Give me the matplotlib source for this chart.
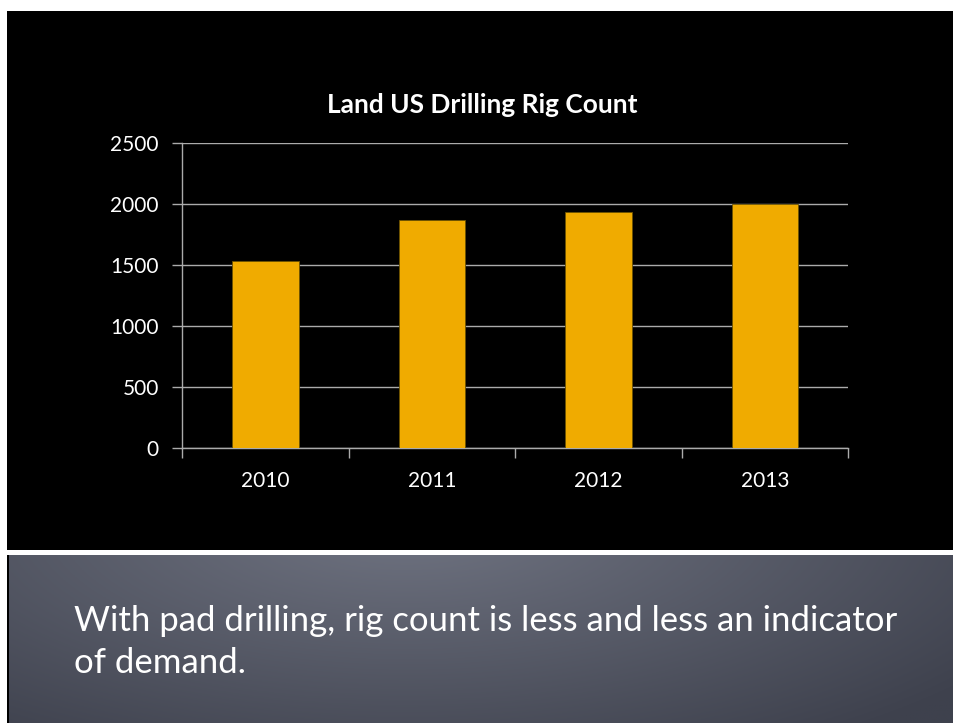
import matplotlib
matplotlib.use("Agg")
import matplotlib.pyplot as plt
import numpy as np
from matplotlib.patches import Rectangle

years = ["2010", "2011", "2012", "2013"]
rig_counts = [1533, 1871, 1939, 2002]
y_ticks = [0, 500, 1000, 1500, 2000, 2500]
title = "Land US Drilling Rig Count"
caption_lines = ["With pad drilling, rig count is less and less an indicator", "of demand."]

plt.rcParams['font.family'] = ['Lato', 'DejaVu Sans']

W, H = 954, 723
fig = plt.figure(figsize=(W / 100, H / 100), dpi=100, facecolor="white")

def fx(px):
    return px / W

def fy(py):
    return 1 - py / H

# black slide area
fig.patches.append(Rectangle((fx(7), 0), 1.01 - fx(7), fy(11), transform=fig.transFigure,
                             facecolor="black", edgecolor="none", zorder=-3))
# white separator band
fig.patches.append(Rectangle((fx(7), fy(555)), 1.01 - fx(7), fy(550) - fy(555), transform=fig.transFigure,
                             facecolor="white", edgecolor="none", zorder=-2))

# gray gradient area
gax = fig.add_axes([fx(9.5), 0, 1 - fx(9.5), fy(555)])
gax.set_axis_off()
gh, gw = 100, 400
yy, xx = np.mgrid[0:gh, 0:gw]
cx, cy = gw * 0.42, -gh * 0.2
d = np.sqrt(((xx - cx) / (gw * 0.75)) ** 2 + ((yy - cy) / (gh * 1.6)) ** 2)
d = np.clip(d, 0, 1)
c_in = np.array([112, 116, 130]) / 255
c_out = np.array([62, 65, 77]) / 255
img = c_in[None, None, :] * (1 - d[..., None]) + c_out[None, None, :] * d[..., None]
gax.imshow(img, aspect="auto", extent=[0, 1, 0, 1], origin="upper")
gax.set_xlim(0, 1)
gax.set_ylim(0, 1)

# chart
ax = fig.add_axes([fx(182.3), fy(448.3), fx(848.3) - fx(182.3), fy(143.3) - fy(448.3)])
ax.set_facecolor("black")
x = np.arange(len(years))
ax.bar(x, rig_counts, width=0.4, color="#F0AB00", edgecolor="#6b5200", linewidth=0.6, zorder=3)
ax.set_xlim(-0.5, len(years) - 0.5)
ax.set_ylim(0, 2500)
ax.set_yticks(y_ticks)
ax.set_yticklabels([str(v) for v in y_ticks])
ax.yaxis.grid(True, color="#ABABAB", linewidth=1.0, zorder=1)
ax.set_axisbelow(True)

ax.set_xticks(np.arange(-0.5, len(years), 1.0))
ax.set_xticklabels([])
ax.set_xticks(x, minor=True)
ax.set_xticklabels(years, minor=True)
ax.tick_params(axis="x", which="major", length=7, color="#ABABAB", width=1.0, direction="out")
ax.tick_params(axis="x", which="minor", length=0, pad=16, labelcolor="white", labelsize=15)
ax.tick_params(axis="y", length=7, color="#ABABAB", width=1.0, pad=10, labelcolor="white", labelsize=15)

for s in ["top", "right"]:
    ax.spines[s].set_visible(False)
for s in ["left", "bottom"]:
    ax.spines[s].set_color("#ABABAB")
    ax.spines[s].set_linewidth(1.0)

fig.text(fx(482.5), fy(112.7), title, ha="center", va="baseline", color="white",
         fontsize=18.9, fontweight="bold")

fig.text(fx(74), fy(631), caption_lines[0], ha="left", va="baseline", color="white", fontsize=25)
fig.text(fx(74), fy(673), caption_lines[1], ha="left", va="baseline", color="white", fontsize=25)

fig.savefig("out.png", dpi=100, facecolor="white")
